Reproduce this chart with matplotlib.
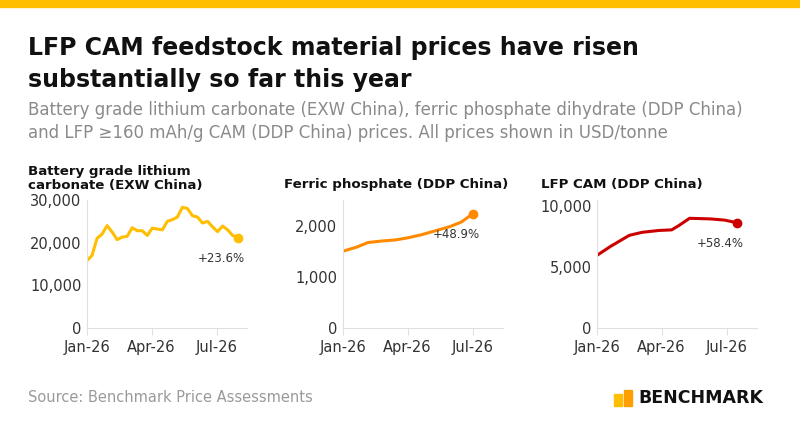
import matplotlib.pyplot as plt
import matplotlib.ticker as mticker
import matplotlib.dates as mdates
import pandas as pd

# weekly lithium carbonate prices (USD/t)
li_datas = pd.date_range('2026-01-01', periods=31, freq='7D')
li_precos = [15800, 17000, 21000, 22000, 24000, 22500, 20700, 21300, 21500, 23500,
             22800, 22800, 21700, 23400, 23200, 23000, 25000, 25400, 26000, 28300,
             28000, 26300, 26000, 24600, 25000, 23700, 22600, 23900, 23000, 21700, 21200]

fp_datas = pd.to_datetime(['2026-01-01', '2026-01-20', '2026-02-05', '2026-02-25', '2026-03-15',
                           '2026-04-01', '2026-04-20', '2026-05-10', '2026-05-30', '2026-06-15', '2026-07-01'])
fp_precos = [1500, 1580, 1670, 1700, 1720, 1760, 1820, 1900, 1980, 2070, 2233]

lfp_datas = pd.to_datetime(['2026-01-01', '2026-01-20', '2026-02-15', '2026-03-05', '2026-03-28',
                            '2026-04-15', '2026-04-25', '2026-05-10', '2026-06-08', '2026-06-28', '2026-07-15'])
lfp_precos = [5960, 6700, 7600, 7850, 8000, 8050, 8400, 9000, 8950, 8850, 8630]

paineis = [
    ('Battery grade lithium\ncarbonate (EXW China)', li_datas, li_precos, '#FFBE00', 30000, [0, 10000, 20000, 30000], '+23.6%'),
    ('Ferric phosphate (DDP China)', fp_datas, fp_precos, '#FF8A00', 2500, [0, 1000, 2000], '+48.9%'),
    ('LFP CAM (DDP China)', lfp_datas, lfp_precos, '#CC0000', 10500, [0, 5000, 10000], '+58.4%'),
]

plt.rcParams['font.family'] = ['DejaVu Sans']
fig = plt.figure(figsize=(8, 4.28), dpi=100)
W, H = 800, 428

fig.add_artist(plt.Rectangle((0, 1 - 7 / H), 1, 7 / H, transform=fig.transFigure, color='#FFBE00'))
fig.text(28 / W, 1 - 48 / H, 'LFP CAM feedstock material prices have risen', fontsize=17,
         fontweight='bold', color='#111111', va='center')
fig.text(28 / W, 1 - 80 / H, 'substantially so far this year', fontsize=17,
         fontweight='bold', color='#111111', va='center')
fig.text(28 / W, 1 - 110 / H, 'Battery grade lithium carbonate (EXW China), ferric phosphate dihydrate (DDP China)',
         fontsize=12, color='#8a8a8a', va='center')
fig.text(28 / W, 1 - 133 / H, 'and LFP ≥160 mAh/g CAM (DDP China) prices. All prices shown in USD/tonne',
         fontsize=12, color='#8a8a8a', va='center')

esquerdas = [87, 343, 597]
titulos_x = [28, 284, 541]
for (titulo, datas, precos, cor, ymax, ticks, rotulo), esq, tx in zip(paineis, esquerdas, titulos_x):
    ax = fig.add_axes([esq / W, (H - 328) / H, 160 / W, 128 / H])
    ax.plot(datas, precos, color=cor, lw=2.2, solid_capstyle='round')
    ax.plot(datas[-1], precos[-1], 'o', color=cor, ms=6)
    ax.annotate(rotulo, (datas[-1], precos[-1]), xytext=(5, -15), textcoords='offset points',
                ha='right', va='center', fontsize=8.5, color='#333333')
    ax.set_ylim(0, ymax)
    ax.set_yticks(ticks)
    ax.yaxis.set_major_formatter(mticker.StrMethodFormatter('{x:,.0f}'))
    ax.set_xlim(pd.Timestamp('2026-01-01'), pd.Timestamp('2026-08-12'))
    ax.set_xticks(pd.to_datetime(['2026-01-01', '2026-04-01', '2026-07-01']))
    ax.xaxis.set_major_formatter(mdates.DateFormatter('%b-%y'))
    for s in ['top', 'right']:
        ax.spines[s].set_visible(False)
    for s in ['left', 'bottom']:
        ax.spines[s].set_color('#e0e0e0')
    ax.tick_params(axis='y', length=0, labelsize=10.5, colors='#333333', pad=4)
    ax.tick_params(axis='x', length=5, color='#e0e0e0', labelsize=10.5, labelcolor='#333333')
    fig.text(tx / W, 1 - 178 / H if '\n' in titulo else 1 - 184 / H, titulo, fontsize=9.6,
             fontweight='bold', color='#111111', va='center', linespacing=1.1)

fig.text(28 / W, 1 - 397 / H, 'Source: Benchmark Price Assessments', fontsize=10.5, color='#9a9a9a', va='center')
fig.text(638 / W, 1 - 398 / H, 'BENCHMARK', fontsize=12.5, fontweight='bold', color='#111111', va='center')
fig.add_artist(plt.Rectangle((614 / W, 1 - 406 / H), 8 / W, 12 / H, transform=fig.transFigure, color='#FFBE00'))
fig.add_artist(plt.Rectangle((624 / W, 1 - 406 / H), 8 / W, 16 / H, transform=fig.transFigure, color='#FF9E00'))

fig.savefig('out.png', dpi=100)
